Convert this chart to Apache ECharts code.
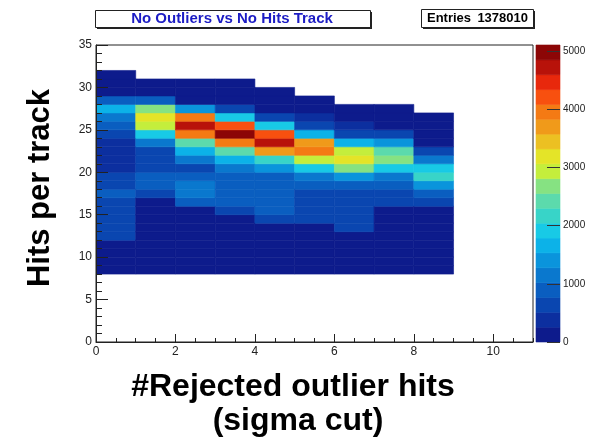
<!DOCTYPE html>
<html><head><meta charset="utf-8">
<script src="https://cdn.jsdelivr.net/npm/echarts@6/dist/echarts.min.js"></script>
<style>html,body{margin:0;padding:0;background:#fff}#c{width:595px;height:439px}</style>
</head><body><div id="c"></div>
<script>
// ---- data: 2D histogram, x bins of width 1 from 0, y bins of width 1 starting at 8
const yFirstBin = 8;
const xBinLows = [0, 1, 2, 3, 4, 5, 6, 7, 8];
// counts per x bin, listed from y bin 8 upward
const counts_x0 = [60, 80, 110, 150, 600, 620, 640, 650, 640, 900, 620, 600, 400, 380, 370, 400, 650, 950, 1150, 1700, 900, 200, 120, 60];
const counts_x1 = [50, 70, 90, 110, 130, 150, 170, 190, 220, 600, 900, 880, 650, 620, 640, 1150, 1950, 2950, 3150, 2650, 880, 180, 90];
const counts_x2 = [50, 60, 80, 100, 120, 140, 160, 200, 900, 1150, 1180, 950, 700, 1100, 1700, 2450, 3850, 4700, 3900, 1450, 200, 120, 70];
const counts_x3 = [40, 55, 70, 90, 110, 130, 180, 650, 920, 940, 960, 900, 1150, 1700, 2400, 3850, 5080, 4200, 1950, 620, 180, 110, 60];
const counts_x4 = [40, 50, 65, 85, 100, 150, 640, 930, 950, 940, 960, 1000, 1450, 2150, 3700, 4800, 4150, 1950, 620, 200, 110, 60];
const counts_x5 = [35, 45, 60, 75, 100, 180, 650, 680, 700, 720, 920, 1150, 1950, 2950, 4000, 3650, 1700, 620, 300, 130, 70];
const counts_x6 = [30, 40, 55, 70, 150, 560, 600, 640, 660, 700, 950, 1450, 2700, 3100, 3050, 1750, 620, 350, 150, 70];
const counts_x7 = [25, 35, 45, 60, 80, 100, 130, 200, 560, 650, 900, 1150, 1950, 2700, 2400, 1400, 600, 200, 120, 60];
const counts_x8 = [20, 30, 40, 50, 65, 80, 110, 180, 600, 880, 1400, 2150, 1900, 1050, 620, 180, 110, 70, 40];
const countsByX = [counts_x0, counts_x1, counts_x2, counts_x3, counts_x4, counts_x5, counts_x6, counts_x7, counts_x8];

const xTickValues = [0, 2, 4, 6, 8, 10];
const yTickValues = [0, 5, 10, 15, 20, 25, 30, 35];
const colorbarTicks = [0, 1000, 2000, 3000, 4000, 5000];
const zMax = 5100;
const nLevels = 20;
const titleText = 'No Outliers vs No Hits Track';
const entriesText = '1378010';

const palette = ['#0d1b8c','#0c2f9f','#0a46b0','#0a5ec0','#0a78ce','#0a94dc','#0cb2e8','#18cae6','#38d4c8','#5cdaac',
                 '#86e282','#c4ee3c','#e4e428','#ecc022','#f09a1a','#f47a14','#f8500f','#e8280c','#b8120a','#8c0606'];

function levelColor(v) {
  const k = Math.max(0, Math.min(nLevels - 1, Math.floor(v / (zMax / nLevels))));
  return palette[k];
}

const cellData = [];
countsByX.forEach((col, i) => {
  col.forEach((v, j) => cellData.push([xBinLows[i], yFirstBin + j, v]));
});
const levelData = [];
for (let k = 0; k < nLevels; k++) levelData.push([0, k * zMax / nLevels, (k + 1) * zMax / nLevels]);

const FONT = 'Liberation Sans';
const chart = echarts.init(document.getElementById('c'), null, {renderer: 'canvas'});

const axisTxt = {color: '#222', fontSize: 12, fontFamily: FONT};
const plain = v => String(v);

chart.setOption({
  animation: false,
  backgroundColor: '#fff',
  grid: [
    {left: 96, top: 45, width: 437, height: 297, show: true, borderColor: '#222', borderWidth: 1, backgroundColor: 'transparent'},
    {left: 536, top: 45, width: 24, height: 297}
  ],
  xAxis: [
    {type: 'value', gridIndex: 0, min: 0, max: 11, interval: 2, z: 5,
     axisLine: {show: true, onZero: false, lineStyle: {color: '#222', width: 1}},
     axisTick: {show: true, inside: true, length: 8, lineStyle: {color: '#222'}, customValues: xTickValues},
     axisLabel: Object.assign({margin: 4, customValues: xTickValues, formatter: plain}, axisTxt),
     splitLine: {show: false}},
    {type: 'value', gridIndex: 0, min: 0, max: 11, interval: 0.5, position: 'bottom', z: 5,
     axisLine: {show: false, onZero: false}, axisTick: {show: true, inside: true, length: 4, lineStyle: {color: '#222'}},
     axisLabel: {show: false}, splitLine: {show: false}},
    {type: 'value', gridIndex: 1, min: 0, max: 1, show: false, axisLine: {onZero: false}}
  ],
  yAxis: [
    {type: 'value', gridIndex: 0, min: 0, max: 35, interval: 5, z: 5,
     axisLine: {show: true, onZero: false, lineStyle: {color: '#222', width: 1}},
     axisTick: {show: true, inside: true, length: 12, lineStyle: {color: '#222'}, customValues: yTickValues},
     axisLabel: Object.assign({margin: 4, customValues: yTickValues, formatter: plain}, axisTxt),
     splitLine: {show: false}},
    {type: 'value', gridIndex: 0, min: 0, max: 35, interval: 1, position: 'left', z: 5,
     axisLine: {show: false, onZero: false}, axisTick: {show: true, inside: true, length: 6, lineStyle: {color: '#222'}},
     axisLabel: {show: false}, splitLine: {show: false}},
    {type: 'value', gridIndex: 1, min: 0, max: zMax, position: 'right', z: 10,
     axisLine: {show: false, onZero: false},
     axisTick: {show: true, inside: true, length: 13, lineStyle: {color: '#333'}, customValues: colorbarTicks},
     axisLabel: {margin: 3, color: '#222', fontSize: 10, fontFamily: FONT, customValues: colorbarTicks, formatter: plain},
     splitLine: {show: false}}
  ],
  series: [
    {type: 'custom', xAxisIndex: 0, yAxisIndex: 0, data: cellData, encode: {x: 0, y: 1}, clip: true, z: 1,
     renderItem: function (params, api) {
       const x = api.value(0), y = api.value(1), v = api.value(2);
       const a = api.coord([x, y + 1]);
       const b = api.coord([x + 1, y]);
       const c = levelColor(v);
       return {type: 'rect', shape: {x: a[0], y: a[1], width: b[0] - a[0], height: b[1] - a[1]},
               style: {fill: c, stroke: c, lineWidth: 0.6}};
     }},
    {type: 'custom', xAxisIndex: 2, yAxisIndex: 2, data: levelData, encode: {x: 0, y: [1, 2]}, z: 1,
     renderItem: function (params, api) {
       const lo = api.value(1), hi = api.value(2);
       const a = api.coord([0, hi]);
       const b = api.coord([1, lo]);
       const c = levelColor((lo + hi) / 2);
       return {type: 'rect', shape: {x: a[0], y: a[1], width: b[0] - a[0], height: b[1] - a[1]},
               style: {fill: c, stroke: c, lineWidth: 0.6}};
     }}
  ],
  graphic: [
    {type: 'rect', left: 97, top: 12, shape: {width: 275, height: 17}, style: {fill: '#222'}, z: 10},
    {type: 'rect', left: 95, top: 10, shape: {width: 275, height: 17}, style: {fill: '#fff', stroke: '#222', lineWidth: 1}, z: 11},
    {type: 'text', x: 232, y: 19, z: 12, style: {text: titleText, fill: '#1c1cc4', font: 'bold 15px "Liberation Sans"', align: 'center', verticalAlign: 'middle'}},
    {type: 'rect', left: 423, top: 11, shape: {width: 112, height: 18}, style: {fill: '#222'}, z: 10},
    {type: 'rect', left: 421, top: 9, shape: {width: 112, height: 18}, style: {fill: '#fff', stroke: '#222', lineWidth: 1}, z: 11},
    {type: 'text', x: 427, y: 18, z: 12, style: {text: 'Entries', fill: '#000', font: 'bold 13px "Liberation Sans"', align: 'left', verticalAlign: 'middle'}},
    {type: 'text', x: 528, y: 18, z: 12, style: {text: entriesText, fill: '#000', font: 'bold 13px "Liberation Sans"', align: 'right', verticalAlign: 'middle'}},
    {type: 'text', x: 40, y: 188, rotation: Math.PI / 2, z: 12, style: {text: 'Hits per track', fill: '#000', font: 'bold 31px "Liberation Sans"', align: 'center', verticalAlign: 'middle'}},
    {type: 'text', x: 293, y: 387, z: 12, style: {text: '#Rejected outlier hits', fill: '#000', font: 'bold 32px "Liberation Sans"', align: 'center', verticalAlign: 'middle'}},
    {type: 'text', x: 298, y: 421, z: 12, style: {text: '(sigma cut)', fill: '#000', font: 'bold 32px "Liberation Sans"', align: 'center', verticalAlign: 'middle'}}
  ]
});
</script>
</body></html>
